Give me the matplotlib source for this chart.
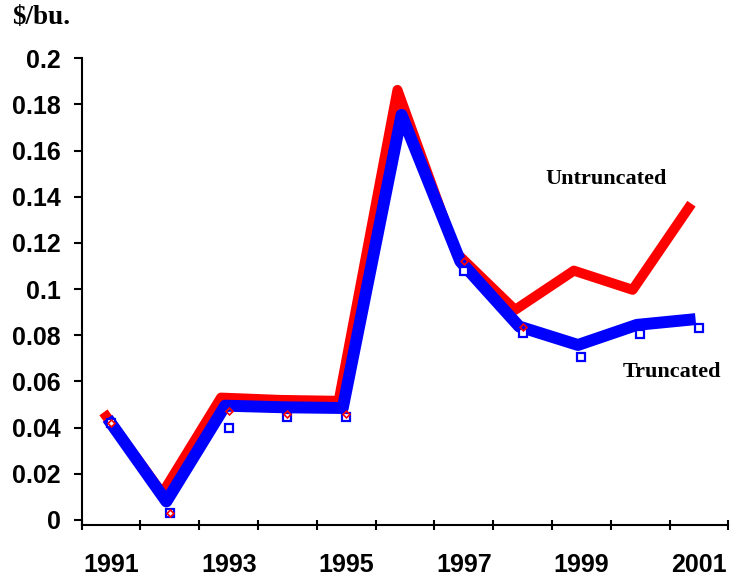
import numpy as np
import matplotlib
matplotlib.use("Agg")
import matplotlib.pyplot as plt

years = [1991, 1992, 1993, 1994, 1995, 1996, 1997, 1998, 1999, 2000, 2001]
untruncated = [0.0466, 0.0115, 0.053, 0.052, 0.0516, 0.1863, 0.1157, 0.091, 0.108, 0.0997, 0.137]
truncated = [0.044, 0.008, 0.0495, 0.0488, 0.0485, 0.1755, 0.112, 0.0838, 0.0758, 0.0845, 0.087]
untrunc_pts = [0.0422, 0.003, 0.047, 0.0458, 0.0458, np.nan, 0.112, 0.0837, np.nan, np.nan, np.nan]
trunc_pts = [0.0422, 0.003, 0.040, 0.0448, 0.0444, np.nan, 0.108, 0.0809, 0.0708, 0.0806, 0.0833]
year_labels = ["1991", "1993", "1995", "1997", "1999", "2001"]

x = np.arange(len(years))

fig = plt.figure(figsize=(7.34, 5.8), dpi=100)
ax = fig.add_axes([0.1113, 0.0948, 0.8812, 0.8047])

ax.plot(x - 0.13, untruncated, color="#ff0000", lw=7.2,
        solid_capstyle="butt", solid_joinstyle="round", zorder=2)
ax.plot(x - 0.06, truncated, color="#0000ff", lw=8.6,
        solid_capstyle="butt", solid_joinstyle="round", zorder=3)
ax.plot(x, trunc_pts, ls="none", marker="s", ms=6, mfc="white",
        mec="#0000ff", mew=1.6, zorder=4)
ax.plot(x, untrunc_pts, ls="none", marker="D", ms=3.5, mfc="none",
        mec="#ff0000", mew=1.2, zorder=5)

ax.set_xlim(-0.5, len(years) - 0.5)
ax.set_ylim(-0.0022, 0.2)

ax.set_yticks(np.arange(0, 0.201, 0.02))
ax.set_yticklabels(["0", "0.02", "0.04", "0.06", "0.08", "0.1", "0.12",
                    "0.14", "0.16", "0.18", "0.2"])
ax.set_xticks(np.arange(-0.5, len(years), 1.0))
ax.set_xticklabels([])
ax.set_xticks(x[::2], minor=True)
ax.set_xticklabels(year_labels, minor=True)

for s in ["top", "right"]:
    ax.spines[s].set_visible(False)
for s in ["left", "bottom"]:
    ax.spines[s].set_linewidth(1.5)

ax.tick_params(axis="y", direction="out", length=6, width=1.5, pad=9, labelsize=18)
ax.tick_params(axis="x", which="major", direction="inout", length=7, width=1.5)
ax.tick_params(axis="x", which="minor", length=0, pad=20, labelsize=18)
for lab in ax.get_yticklabels() + ax.get_xticklabels(minor=True):
    lab.set_fontfamily("Liberation Sans")
    lab.set_fontweight("bold")

sfont = dict(family="Liberation Serif", weight="bold")
fig.text(0.017, 0.97, "$/bu.", fontsize=19.5, va="center", ha="left", **sfont)
ax.text(8.42, 0.1475, "Untruncated", fontsize=16, ha="center", va="center", **sfont)
ax.text(9.54, 0.0641, "Truncated", fontsize=16, ha="center", va="center", **sfont)

fig.savefig("out.png", dpi=100)
